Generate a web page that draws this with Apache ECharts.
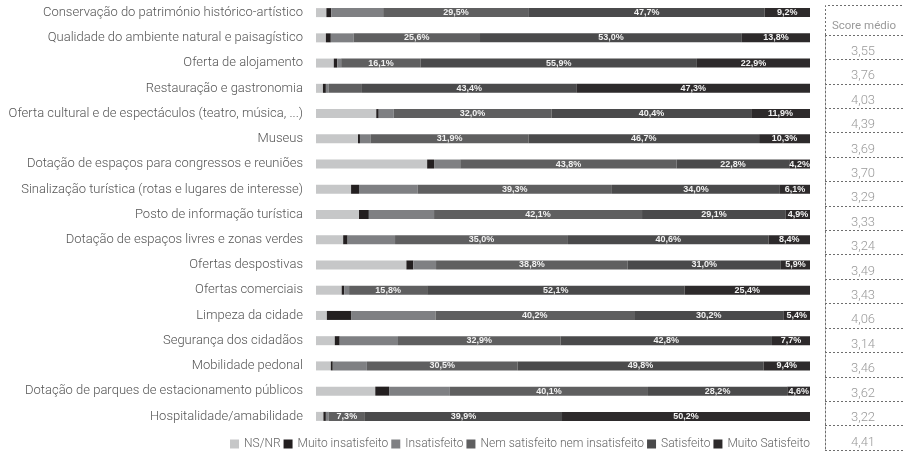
<!DOCTYPE html>
<html>
<head>
<meta charset="utf-8">
<script src="https://cdn.jsdelivr.net/npm/echarts@6/dist/echarts.min.js"></script>
<style>
  html, body { margin: 0; padding: 0; background: #fff; }
  #chart { width: 903px; height: 457px; }
</style>
</head>
<body>
<div id="chart"></div>
<script>
// Avaliação dos serviços e atributos do destino (%), com score médio
const categories = [
  'Conservação do património histórico-artístico',
  'Qualidade do ambiente natural e paisagístico',
  'Oferta de alojamento',
  'Restauração e gastronomia',
  'Oferta cultural e de espectáculos (teatro, música, ...)',
  'Museus',
  'Dotação de espaços para congressos e reuniões',
  'Sinalização turística (rotas e lugares de interesse)',
  'Posto de informação turística',
  'Dotação de espaços livres e zonas verdes',
  'Ofertas despostivas',
  'Ofertas comerciais',
  'Limpeza da cidade',
  'Segurança dos cidadãos',
  'Mobilidade pedonal',
  'Dotação de parques de estacionamento públicos',
  'Hospitalidade/amabilidade'
];

const seriesNames = ['NS/NR', 'Muito insatisfeito', 'Insatisfeito', 'Nem satisfeito nem insatisfeito', 'Satisfeito', 'Muito Satisfeito'];

const nsnr            = [2.1, 2.0, 3.6, 1.4, 12.2, 8.5, 22.5, 7.1, 8.7, 5.5, 18.3, 5.2, 2.2, 3.8, 3.0, 12.0, 1.5];
const muitoInsatisf   = [1.0, 1.0, 0.7, 0.6, 0.5, 0.4, 1.4, 1.6, 2.0, 0.9, 1.4, 0.5, 4.9, 1.0, 0.4, 2.8, 0.5];
const insatisfeito    = [10.5, 4.6, 0.8, 0.6, 3.0, 2.2, 5.3, 11.9, 13.2, 9.6, 4.6, 1.0, 17.1, 11.8, 6.9, 12.3, 0.6];
const nemNem          = [29.5, 25.6, 16.1, 6.7, 32.0, 31.9, 43.8, 39.3, 42.1, 35.0, 38.8, 15.8, 40.2, 32.9, 30.5, 40.1, 7.3];
const satisfeito      = [47.7, 53.0, 55.9, 43.4, 40.4, 46.7, 22.8, 34.0, 29.1, 40.6, 31.0, 52.1, 30.2, 42.8, 49.8, 28.2, 39.9];
const muitoSatisfeito = [9.2, 13.8, 22.9, 47.3, 11.9, 10.3, 4.2, 6.1, 4.9, 8.4, 5.9, 25.4, 5.4, 7.7, 9.4, 4.6, 50.2];

const scores = [3.55, 3.76, 4.03, 4.39, 3.69, 3.70, 3.29, 3.33, 3.24, 3.49, 3.43, 4.06, 3.14, 3.46, 3.62, 3.22, 4.41];

const colors = ['#c6c7c8', '#231f20', '#7f8083', '#5f5f60', '#4a4a4b', '#2d2a2b'];
const values = [nsnr, muitoInsatisf, insatisfeito, nemNem, satisfeito, muitoSatisfeito];

const pct = v => v.toFixed(1).replace('.', ',') + '%';
const dec = v => v.toFixed(2).replace('.', ',');

// labels only on the three upper categories of the scale
const labelRule = [null, null, null, 7, 0, 0];

const series = values.map((data, i) => ({
  name: seriesNames[i],
  type: 'bar',
  stack: 'total',
  xAxisIndex: 0,
  yAxisIndex: 0,
  barWidth: 9,
  data: data,
  itemStyle: { color: colors[i] },
  label: {
    show: labelRule[i] !== null,
    position: 'inside',
    color: '#f2f2f2',
    fontFamily: '"Liberation Sans Narrow", "Liberation Sans", sans-serif',
    fontWeight: 'bold',
    fontSize: 9,
    formatter: p => (labelRule[i] !== null && p.value >= labelRule[i]) ? pct(p.value) : ''
  },
  emphasis: { disabled: true }
}));

const lineCol = '#6e6e6e';
const dotted = { color: lineCol, width: 1, type: [2, 2] };

const chart = echarts.init(document.getElementById('chart'), null, { renderer: 'canvas' });
chart.setOption({
  animation: false,
  textStyle: { fontFamily: 'Roboto, sans-serif' },
  title: {
    text: 'Score médio',
    left: 864, top: 20,
    textAlign: 'center',
    padding: 0,
    textStyle: { fontSize: 11.5, fontWeight: 'normal', color: '#9a9a9a', fontFamily: 'Roboto, sans-serif' }
  },
  legend: {
    data: seriesNames,
    left: 230, top: 438,
    itemWidth: 9, itemHeight: 9, itemGap: 3,
    icon: 'rect',
    padding: 0,
    textStyle: { fontSize: 12, color: '#666', fontWeight: 300 },
    selectedMode: false
  },
  grid: [
    { left: 316, right: 93, top: 0, height: 429 },
    { left: 825, right: 0, top: 35, bottom: 7 }
  ],
  xAxis: [
    { gridIndex: 0, type: 'value', min: 0, max: 100, show: false },
    { gridIndex: 1, type: 'value', min: 0, max: 1, show: false }
  ],
  yAxis: [
    {
      gridIndex: 0, type: 'category', data: categories, inverse: true,
      axisLine: { show: false }, axisTick: { show: false },
      axisLabel: { color: '#555', fontSize: 13, fontWeight: 300, margin: 13, fontFamily: 'Roboto, sans-serif' }
    },
    {
      gridIndex: 1, type: 'category', data: scores, inverse: true,
      axisLine: { show: true, lineStyle: dotted },
      axisTick: { show: false },
      splitLine: { show: true, lineStyle: dotted },
      axisLabel: {
        inside: true, margin: 38, align: 'center',
        verticalAlign: 'top', lineHeight: 9,
        color: '#9a9a9a', fontSize: 13, fontWeight: 300,
        formatter: v => dec(Number(v))
      }
    }
  ],
  graphic: [
    {
      type: 'polyline',
      shape: { points: [[825.5, 35], [825.5, 5.5], [903, 5.5]] },
      style: { stroke: lineCol, lineWidth: 1, lineDash: [2, 2], fill: null },
      silent: true
    }
  ],
  series: series
});
</script>
</body>
</html>
